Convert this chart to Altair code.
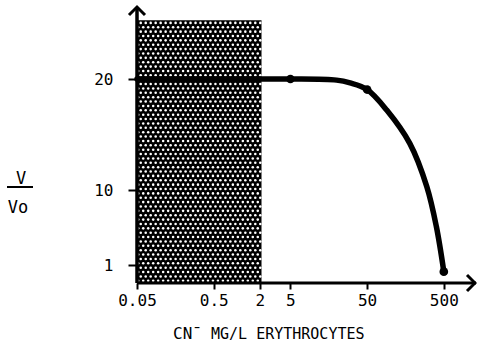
import altair as alt
import pandas as pd

# ---- data ----
curve_x = [0.05, 0.5, 2, 5, 20, 30, 50, 90, 180, 300, 400, 500]
curve_y = [20, 20, 20, 20, 19.9, 19.65, 19.05, 17.2, 14.2, 10.3, 5.6, 0.63]
marker_x = [5, 50, 500]
marker_y = [20, 19.05, 0.63]
band_x = [0.05]
band_x2 = [2.1]
band_y = [0]
band_y2 = [25.3]
x_ticks = [0.05, 0.5, 2, 5, 50, 500]
y_ticks = [1, 10, 20]
x_extent = [0.05, 1314]
y_extent = [0, 26.4]

# ---- scales (the original y axis is non-linear) ----
W, H = 339, 275
x_scale = alt.Scale(type="log", domain=x_extent, nice=False)
y_scale = alt.Scale(domain=[0, 1, 10, 20, 26.4], range=[275, 257, 182, 71, 0], nice=False, zero=False)

FONT = "DejaVu Sans Mono"

x_axis = alt.Axis(
    values=x_ticks, format="~g", title=None, grid=False, domain=False,
    tickColor="black", tickWidth=2, tickSize=6,
    labelFont=FONT, labelFontSize=16, labelColor="black", labelPadding=3,
    labelFlush=False, labelOverlap=False,
)
y_axis = alt.Axis(
    values=y_ticks, format="d", title=None, grid=False, domain=False,
    tickColor="black", tickWidth=2, tickSize=9,
    labelFont=FONT, labelFontSize=16, labelColor="black", labelPadding=15,
    labelFlush=False, labelOverlap=False,
)

curve_df = pd.DataFrame({"x": curve_x, "y": curve_y})
marker_df = pd.DataFrame({"x": marker_x, "y": marker_y})
band_df = pd.DataFrame({"x": band_x, "x2": band_x2, "y": band_y, "y2": band_y2})

band = alt.Chart(band_df).mark_rect(color="black").encode(
    x=alt.X("x:Q", scale=x_scale, axis=x_axis),
    x2="x2:Q",
    y=alt.Y("y:Q", scale=y_scale, axis=None),
    y2="y2:Q",
)

# white dot texture of the shaded band
NX, NY = 25, 60
dots = (
    alt.Chart(alt.sequence(0, NX * NY, as_="i"))
    .transform_calculate(row=f"floor(datum.i / {NX})", col=f"datum.i % {NX}")
    .transform_calculate(
        fx=f"(datum.col + 0.25 + 0.5 * (datum.row % 2)) / {NX}",
        fy=f"(datum.row + 0.5) / {NY}",
    )
    .transform_calculate(xv=f"{band_x[0]} * pow({band_x2[0]} / {band_x[0]}, datum.fx)")
    .mark_circle(color="white", size=6.5, opacity=1)
    .encode(
        x=alt.X("xv:Q", scale=x_scale, axis=x_axis),
        y=alt.Y("fy:Q", scale=alt.Scale(domain=[0, 1], range=[275, 12.7], nice=False, zero=False), axis=None),
    )
)

axes_df = pd.DataFrame({"x0": [x_extent[0]], "x1": [x_extent[1]], "y0": [y_extent[0]], "y1": [y_extent[1]]})
y_line = alt.Chart(axes_df).mark_rule(color="black", strokeWidth=3.5).encode(
    x=alt.X("x0:Q", scale=x_scale, axis=x_axis),
    y=alt.Y("y0:Q", scale=y_scale, axis=None),
    y2="y1:Q",
)
x_line = alt.Chart(axes_df).mark_rule(color="black", strokeWidth=3).encode(
    x=alt.X("x0:Q", scale=x_scale, axis=x_axis),
    x2="x1:Q",
    y=alt.Y("y0:Q", scale=y_scale, axis=None),
)

line = alt.Chart(curve_df).mark_line(
    color="black", strokeWidth=5.5, interpolate="catmull-rom", strokeCap="round"
).encode(
    x=alt.X("x:Q", scale=x_scale, axis=x_axis),
    y=alt.Y("y:Q", scale=y_scale, axis=y_axis),
)

markers = alt.Chart(marker_df).mark_circle(color="black", size=75, opacity=1).encode(
    x=alt.X("x:Q", scale=x_scale, axis=x_axis),
    y=alt.Y("y:Q", scale=y_scale, axis=None),
)

one = pd.DataFrame({"t": ["a"]})

y_arrow = alt.Chart(one).mark_point(
    shape="M-1,0.5L0,-0.5L1,0.5", size=256, filled=False, color="black", strokeWidth=3, opacity=1
).encode(x=alt.value(0), y=alt.value(3))

x_arrow = alt.Chart(one).mark_point(
    shape="M-0.5,-1L0.5,0L-0.5,1", size=256, filled=False, color="black", strokeWidth=3, opacity=1
).encode(x=alt.value(334), y=alt.value(H))


def label(text, x, y, size, align="left"):
    return alt.Chart(pd.DataFrame({"t": [text]})).mark_text(
        font=FONT, fontSize=size, color="black", align=align, baseline="alphabetic"
    ).encode(x=alt.value(x), y=alt.value(y), text="t:N")


t_cn = label("CN¯", 36, 331, 16)
t_rest = label("MG/L ERYTHROCYTES", 74, 331, 15)
t_v = label("V", -116, 176, 17, align="center")
t_vo = label("Vo", -119, 205, 17, align="center")
frac = alt.Chart(one).mark_rule(color="black", strokeWidth=2).encode(
    x=alt.value(-130), x2=alt.value(-104), y=alt.value(179)
)

chart = (
    alt.layer(band, dots, y_line, x_line, line, markers, y_arrow, x_arrow,
              t_cn, t_rest, t_v, t_vo, frac)
    .resolve_scale(y="independent")
    .properties(
        width=W,
        height=H,
        autosize=alt.AutoSizeParams(type="none"),
        padding={"left": 137, "top": 8, "right": 1, "bottom": 63},
        background="white",
    )
    .configure_view(stroke=None)
)

chart.save("out.html", embed_options={"renderer": "svg", "actions": False})
